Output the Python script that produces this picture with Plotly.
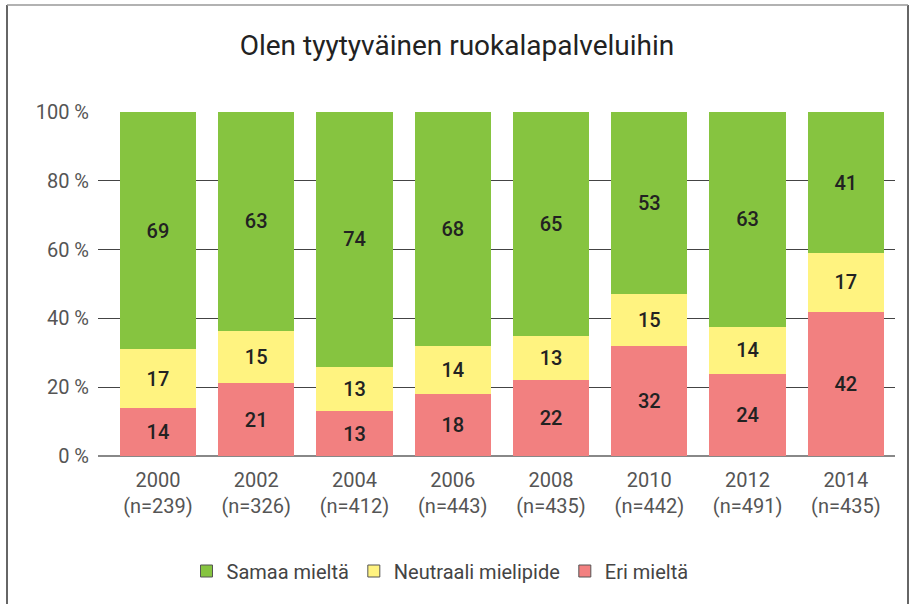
import plotly.graph_objects as go

years = ["2000", "2002", "2004", "2006", "2008", "2010", "2012", "2014"]
n_sizes = [239, 326, 412, 443, 435, 442, 491, 435]
samaa = [69, 63, 74, 68, 65, 53, 63, 41]
neutraali = [17, 15, 13, 14, 13, 15, 14, 17]
eri = [14, 21, 13, 18, 22, 32, 24, 42]
y_ticks = [0, 20, 40, 60, 80, 100]
y_tick_labels = ["0 %", "20 %", "40 %", "60 %", "80 %", "100 %"]

cats = [f"{y}<br>(n={n})" for y, n in zip(years, n_sizes)]

FONT = "Roboto"
series = [
    ("Eri mieltä", eri, "#F28080"),
    ("Neutraali mielipide", neutraali, "#FFF380"),
    ("Samaa mieltä", samaa, "#86C440"),
]

fig = go.Figure()
for name, vals, col in series:
    fig.add_trace(go.Bar(
        x=cats, y=vals, name=name, showlegend=False,
        marker=dict(color=col, line=dict(width=0)),
        text=[str(v) for v in vals], textposition="inside",
        insidetextanchor="middle",
        textfont=dict(family=FONT, size=20, color="#222222", weight=500),
        hoverinfo="skip",
    ))
# legend entries (with a thin dark border on the swatch)
for name, vals, col in series:
    fig.add_trace(go.Bar(
        x=[None], y=[None], name=name, showlegend=True,
        marker=dict(color=col, line=dict(width=1, color="#555555")),
        hoverinfo="skip",
    ))

# margins: plot area x 98..895, y 112..456
L, R, T, B = 98, 19, 112, 148
W, H = 914, 604
pw, ph = W - L - R, H - T - B

def px(x):
    return (x - L) / pw

def py(y):
    return (H - B - y) / ph

shapes = [
    dict(type="line", xref="paper", yref="paper", x0=px(7), x1=px(7), y0=py(5), y1=py(610),
         line=dict(color="#333333", width=1.5)),
    dict(type="line", xref="paper", yref="paper", x0=px(908), x1=px(908), y0=py(5), y1=py(610),
         line=dict(color="#333333", width=1.5)),
    dict(type="line", xref="paper", yref="paper", x0=px(7), x1=px(908), y0=py(5), y1=py(5),
         line=dict(color="#999999", width=1.5)),
]

fig.update_layout(
    width=W, height=H,
    margin=dict(l=L, r=R, t=T, b=B, pad=0),
    barmode="stack", barnorm="percent", bargap=0.224,
    plot_bgcolor="white", paper_bgcolor="white",
    font=dict(family=FONT, size=19, color="#555555"),
    title=dict(text="Olen tyytyväinen ruokalapalveluihin", x=0.5, xanchor="center",
               y=1 - 45 / H, yanchor="middle", xref="container", yref="container",
               font=dict(family=FONT, size=28, color="#222222", weight=400)),
    xaxis=dict(range=[-0.61, 7.5], showgrid=False, showline=False, ticks="",
               ticklabelstandoff=10,
               tickfont=dict(family=FONT, size=20, color="#555555")),
    yaxis=dict(range=[0, 100], tickvals=y_ticks, ticktext=y_tick_labels, showgrid=True,
               gridcolor="#444444", gridwidth=1, zeroline=True, zerolinecolor="#888888",
               zerolinewidth=1.5, ticks="", ticklabelstandoff=8,
               tickfont=dict(family=FONT, size=20, color="#555555")),
    legend=dict(orientation="h", x=px(440), xanchor="center", y=py(571), yanchor="middle",
                font=dict(family=FONT, size=20, color="#444444"),
                itemwidth=30),
    shapes=shapes,
)

fig.write_html("out.html", config={"displayModeBar": False},
               post_script="document.body.style.margin='0';")
